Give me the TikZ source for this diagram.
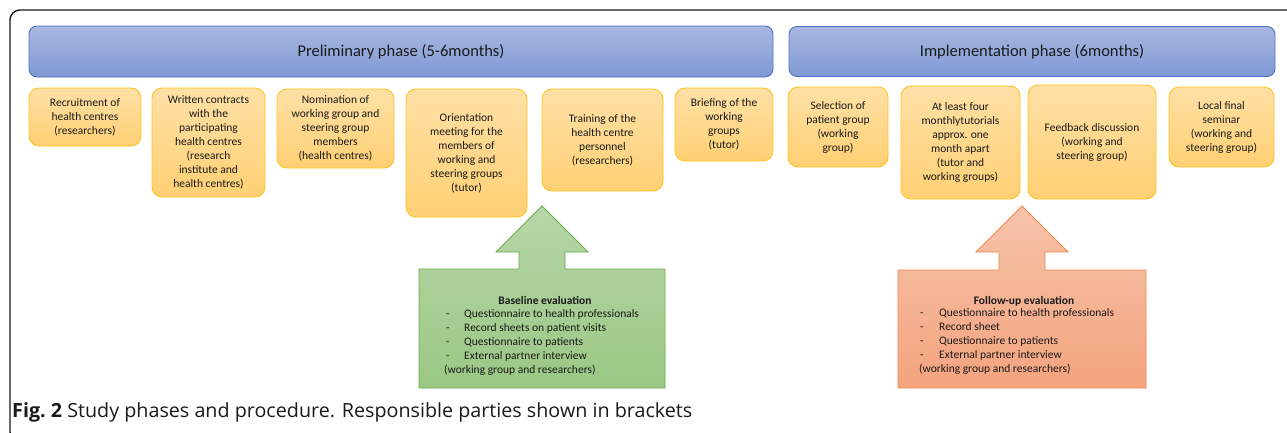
\documentclass[tikz,border=0pt]{standalone}
\usepackage{fontspec}
\setmainfont{Carlito}
\newfontfamily\capfont{Open Sans}
\usepackage{graphicx}
\definecolor{txt}{HTML}{1A1A1A}
\definecolor{frameline}{HTML}{1A1A1A}
\definecolor{phaseborder}{HTML}{4A72C2}
\definecolor{phasetop}{HTML}{A9B7E0}
\definecolor{phasebot}{HTML}{7F99D4}
\definecolor{stageborder}{HTML}{FFC41F}
\definecolor{stagetop}{HTML}{FFE0A6}
\definecolor{stagebot}{HTML}{FFD074}
\definecolor{gborder}{HTML}{6DAA4C}
\definecolor{gtop}{HTML}{B6D6A8}
\definecolor{gbot}{HTML}{9BC884}
\definecolor{sborder}{HTML}{EE874F}
\definecolor{stop}{HTML}{F6C4AA}
\definecolor{sbot}{HTML}{F4A37E}
\begin{document}
\begin{tikzpicture}[x=1pt,y=-1pt,
  phasebox/.style={draw=phaseborder, line width=0.9pt, rounded corners=8pt,
    top color=phasetop, bottom color=phasebot, text=txt,
    font=\fontsize{16.5}{19}\selectfont},
  stagebox/.style={draw=stageborder, line width=0.9pt, rounded corners=10pt,
    top color=stagetop, bottom color=stagebot, align=center, text=txt,
    inner sep=2pt, font=\fontsize{11.5}{14}\selectfont},
  evalshape/.style={line width=0.9pt},
  evtext/.style={font=\fontsize{11.5}{14}\selectfont, text=txt, inner sep=0pt},
  framestyle/.style={draw=frameline, line width=1.4pt, rounded corners=10pt},
]
\useasboundingbox (0,0) rectangle (1287,432);
\fill[white] (0,0) rectangle (1287,432);
\draw[framestyle] (1300,10) -- (10,10) -- (10,442) -- (40,442);

% phase headers
\node[phasebox, minimum width=744pt, minimum height=51pt] (prelim) at (401,51.5) {Preliminary phase (5-6months)};
\node[phasebox, minimum width=486pt, minimum height=50pt] (impl) at (1032,51.5) {Implementation phase (6months)};

% stage boxes
\node[stagebox, minimum width=112pt, minimum height=58pt] (s1) at (85,117) {Recruitment of\\health centres\\(researchers)};
\node[stagebox, minimum width=113pt, minimum height=109pt] (s2) at (208.5,142.5) {Written contracts\\with the\\participating\\health centres\\(research\\institute and\\health centres)};
\node[stagebox, minimum width=117pt, minimum height=79pt] (s3) at (335.5,128.5) {Nomination of\\working group and\\steering group\\members\\(health centres)};
\node[stagebox, minimum width=121pt, minimum height=128pt] (s4) at (466.5,153) {Orientation\\meeting for the\\members of\\working and\\steering groups\\(tutor)};
\node[stagebox, minimum width=121pt, minimum height=102pt] (s5) at (602.5,140) {Training of the\\health centre\\personnel\\(researchers)};
\node[stagebox, minimum width=98pt, minimum height=73pt] (s6) at (724,124.5) {Briefing of the\\working\\groups\\(tutor)};
\node[stagebox, minimum width=100pt, minimum height=80pt] (s7) at (838,127) {Selection of\\patient group\\(working\\group)};
\node[stagebox, minimum width=119pt, minimum height=113pt] (s8) at (960.5,142.5) {At least four\\monthlytutorials\\approx. one\\month apart\\(tutor and\\working groups)};
\node[stagebox, minimum width=128pt, minimum height=114pt] (s9) at (1092,142) {Feedback discussion\\(working and\\steering group)};
\node[stagebox, minimum width=105pt, minimum height=80pt] (s10) at (1221.5,127) {Local final\\seminar\\(working and\\steering group)};

% baseline evaluation arrow box
\path[evalshape, draw=gborder, top color=gtop, bottom color=gbot]
  (419,269) -- (519,269) -- (519,252) -- (496,252) -- (542,206) -- (588,252)
  -- (565,252) -- (565,269) -- (665,269) -- (665,388) -- (419,388) -- cycle;
\node[evtext, anchor=base] (gtitle) at (545,304) {\textbf{Baseline evaluation}};
\node[evtext, anchor=north west, align=left] (glist) at (444,309.5) {%
\makebox[20pt][l]{\hspace{2pt}-}Questionnaire to health professionals\\
\makebox[20pt][l]{\hspace{2pt}-}Record sheets on patient visits\\
\makebox[20pt][l]{\hspace{2pt}-}Questionnaire to patients\\
\makebox[20pt][l]{\hspace{2pt}-}External partner interview\\
(working group and researchers)};

% follow-up evaluation arrow box
\path[evalshape, draw=sborder, top color=stop, bottom color=sbot]
  (898,270) -- (999,270) -- (999,252) -- (976,252) -- (1022,206) -- (1068,252)
  -- (1045,252) -- (1045,270) -- (1146,270) -- (1146,388) -- (898,388) -- cycle;
\node[evtext, anchor=base] (stitle) at (1024,304) {\textbf{Follow-up evaluation}};
\node[evtext, anchor=north west, align=left] (slist) at (919,308.5) {%
\makebox[20pt][l]{\hspace{1pt}-}Questionnaire to health professionals\\
\makebox[20pt][l]{\hspace{1pt}-}Record sheet\\
\makebox[20pt][l]{\hspace{1pt}-}Questionnaire to patients\\
\makebox[20pt][l]{\hspace{1pt}-}External partner interview\\
(working group and researchers)};

% caption
\node[anchor=base west, inner sep=0pt, text=txt] (cap) at (12,417)
  {\resizebox{680pt}{\height}{\capfont\fontsize{19.5}{22}\selectfont\textbf{Fig.\ 2} Study phases and procedure. Responsible parties shown in brackets}};
\end{tikzpicture}
\end{document}
